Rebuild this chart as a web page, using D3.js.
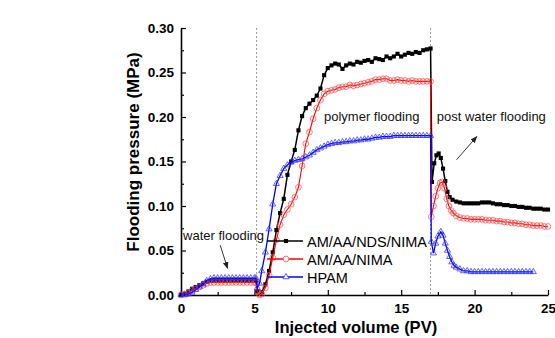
<!DOCTYPE html>
<html>
<head>
<meta charset="utf-8">
<script src="https://cdn.jsdelivr.net/npm/d3@7"></script>
<style>
  body { margin: 0; background: #fff; }
  text { font-family: "Liberation Sans", Arial, sans-serif; }
</style>
</head>
<body>
<div id="chart"></div>
<script>
// AM/AA/NDS/NIMA  [PV, MPa]
const seriesNDS = [
  [0,0],[0.25,0.001],[0.5,0.004],[0.75,0.007],[1,0.009],[1.25,0.011],[1.5,0.013],[1.75,0.015],[2,0.016],
  [2.25,0.017],[2.5,0.017],[2.75,0.017],[3,0.017],[3.25,0.017],[3.5,0.017],[3.75,0.017],[4,0.017],
  [4.25,0.017],[4.5,0.017],[4.75,0.017],[5,0.017],[5.1,0.016],[5.2,0.004],[5.35,0.001],[5.5,0.003],
  [5.75,0.012],[6,0.027],[6.25,0.048],[6.5,0.073],[6.75,0.092],[7,0.108],[7.25,0.135],[7.5,0.150],
  [7.75,0.163],[8,0.185],[8.25,0.201],[8.5,0.210],[8.75,0.215],[9,0.219],[9.25,0.224],[9.5,0.232],
  [9.75,0.247],[10,0.255],[10.25,0.258],[10.5,0.260],[10.75,0.259],[11,0.254],[11.25,0.258],[11.5,0.260],
  [11.75,0.259],[12,0.262],[12.25,0.261],[12.5,0.263],[12.75,0.264],[13,0.262],[13.25,0.266],[13.5,0.265],
  [13.75,0.264],[14,0.268],[14.25,0.266],[14.5,0.268],[14.75,0.271],[15,0.268],[15.25,0.270],[15.5,0.272],
  [15.75,0.271],[16,0.273],[16.25,0.272],[16.5,0.275],[16.75,0.276],[17,0.277],
  [17.1,0.127],[17.25,0.148],[17.4,0.157],[17.55,0.159],[17.7,0.154],[17.85,0.142],[18,0.128],[18.15,0.116],
  [18.3,0.110],[18.5,0.107],[18.75,0.105],[19,0.104],[19.25,0.103],[19.5,0.103],[19.75,0.103],[20,0.103],
  [20.25,0.103],[20.5,0.104],[20.75,0.104],[21,0.104],[21.25,0.103],[21.5,0.102],[21.75,0.102],[22,0.101],
  [22.25,0.101],[22.5,0.100],[22.75,0.100],[23,0.099],[23.25,0.099],[23.5,0.098],[23.75,0.098],[24,0.097],
  [24.25,0.097],[24.5,0.097],[24.75,0.096],[25,0.096]
];

// AM/AA/NIMA
const seriesNIMA = [
  [0,0],[0.25,0.001],[0.5,0.002],[0.75,0.005],[1,0.007],[1.25,0.009],[1.5,0.011],[1.75,0.013],[2,0.014],
  [2.25,0.014],[2.5,0.014],[2.75,0.014],[3,0.014],[3.25,0.014],[3.5,0.014],[3.75,0.014],[4,0.014],
  [4.25,0.014],[4.5,0.014],[4.75,0.014],[5,0.014],[5.1,0.014],[5.2,0.004],[5.35,0],[5.5,0.001],
  [5.75,0.008],[6,0.022],[6.25,0.042],[6.5,0.062],[6.75,0.079],[7,0.090],[7.25,0.096],[7.5,0.102],
  [7.75,0.110],[8,0.121],[8.25,0.145],[8.5,0.170],[8.75,0.183],[9,0.198],[9.25,0.210],[9.5,0.219],
  [9.75,0.226],[10,0.229],[10.25,0.230],[10.5,0.231],[10.75,0.233],[11,0.234],[11.25,0.234],[11.5,0.236],
  [11.75,0.235],[12,0.236],[12.25,0.237],[12.5,0.238],[12.75,0.239],[13,0.240],[13.25,0.242],[13.5,0.242],
  [13.75,0.243],[14,0.243],[14.25,0.241],[14.5,0.241],[14.75,0.242],[15,0.241],[15.25,0.241],[15.5,0.240],
  [15.75,0.241],[16,0.240],[16.25,0.240],[16.5,0.240],[16.75,0.240],[17,0.240],
  [17.05,0.088],[17.2,0.100],[17.35,0.111],[17.5,0.120],[17.65,0.126],[17.8,0.127],[17.95,0.120],[18.1,0.108],
  [18.25,0.100],[18.4,0.095],[18.55,0.092],[18.75,0.089],[19,0.087],[19.25,0.086],[19.5,0.086],[19.75,0.085],
  [20,0.085],[20.25,0.085],[20.5,0.085],[20.75,0.084],[21,0.084],[21.25,0.084],[21.5,0.083],[21.75,0.083],
  [22,0.082],[22.25,0.082],[22.5,0.081],[22.75,0.081],[23,0.080],[23.25,0.080],[23.5,0.079],[23.75,0.079],
  [24,0.078],[24.25,0.078],[24.5,0.078],[24.75,0.077],[25,0.077]
];

// HPAM
const seriesHPAM = [
  [0,0],[0.25,0],[0.5,0.001],[0.75,0.003],[1,0.006],[1.25,0.009],[1.5,0.012],[1.75,0.016],[2,0.018],
  [2.25,0.019],[2.5,0.019],[2.75,0.019],[3,0.019],[3.25,0.019],[3.5,0.019],[3.75,0.019],[4,0.019],
  [4.25,0.019],[4.5,0.019],[4.75,0.019],[5,0.019],[5.1,0.019],[5.2,0.008],[5.35,0.013],[5.5,0.027],
  [5.75,0.048],[6,0.074],[6.25,0.102],[6.5,0.125],[6.75,0.134],[7,0.142],[7.25,0.146],[7.5,0.149],
  [7.75,0.151],[8,0.152],[8.25,0.153],[8.5,0.155],[8.75,0.157],[9,0.160],[9.25,0.163],[9.5,0.165],
  [9.75,0.167],[10,0.169],[10.25,0.170],[10.5,0.171],[10.75,0.171],[11,0.172],[11.25,0.172],[11.5,0.173],
  [11.75,0.173],[12,0.174],[12.25,0.174],[12.5,0.175],[12.75,0.175],[13,0.176],[13.25,0.177],[13.5,0.177],
  [13.75,0.178],[14,0.178],[14.25,0.178],[14.5,0.179],[14.75,0.179],[15,0.179],[15.25,0.179],[15.5,0.179],
  [15.75,0.179],[16,0.179],[16.25,0.179],[16.5,0.179],[16.75,0.179],[17,0.179],
  [17.05,0.060],[17.2,0.047],[17.35,0.058],[17.5,0.066],[17.7,0.071],[17.85,0.067],[18,0.058],[18.15,0.050],
  [18.3,0.043],[18.45,0.037],[18.6,0.033],[18.75,0.031],[19,0.029],[19.25,0.027],[19.5,0.027],[19.75,0.026],
  [20,0.026],[20.25,0.026],[20.5,0.026],[20.75,0.026],[21,0.026],[21.25,0.026],[21.5,0.026],[21.75,0.026],
  [22,0.026],[22.25,0.026],[22.5,0.026],[22.75,0.026],[23,0.026],[23.25,0.026],[23.5,0.026],[23.75,0.026],
  [24,0.026]
];

const seriesNames = ['AM/AA/NDS/NIMA', 'AM/AA/NIMA', 'HPAM'];
const xTicks = [0, 5, 10, 15, 20, 25];
const xMinorTicks = [2.5, 7.5, 12.5, 17.5, 22.5];
const yTicks = [0, 0.05, 0.10, 0.15, 0.20, 0.25, 0.30];
const yMinorTicks = [0.025, 0.075, 0.125, 0.175, 0.225, 0.275];
const stageLines = [5.15, 17.0];   // dashed stage boundaries (PV)

// annotation text / arrows, in data units
const labels = [
  { text: 'water flooding', x: 0.14, y: 0.0615 },
  { text: 'polymer flooding', x: 9.74, y: 0.195 },
  { text: 'post water flooding', x: 17.42, y: 0.195 }
];
const arrows = [
  { x1: 2.67, y1: 0.056, x2: 3.17, y2: 0.030 },
  { x1: 18.77, y1: 0.152, x2: 20.15, y2: 0.178 }
];

const W = 555, H = 338;
const margin = { top: 28, right: 7, bottom: 43, left: 181 };
const iw = W - margin.left - margin.right;
const ih = H - margin.top - margin.bottom;

const svg = d3.select('#chart').append('svg')
  .attr('width', W).attr('height', H);

const defs = svg.append('defs');
defs.append('marker')
  .attr('id', 'arrow')
  .attr('viewBox', '0 0 10 10')
  .attr('refX', 9).attr('refY', 5)
  .attr('markerWidth', 7).attr('markerHeight', 7)
  .attr('markerUnits', 'userSpaceOnUse')
  .attr('orient', 'auto')
  .append('path').attr('d', 'M0,1 L10,5 L0,9 Z').attr('fill', '#222');

const g = svg.append('g')
  .attr('transform', `translate(${margin.left},${margin.top})`);

const x = d3.scaleLinear().domain([0, 25]).range([0, iw]);
const y = d3.scaleLinear().domain([0, 0.30]).range([ih, 0]);

// stage boundaries
g.selectAll('.stage')
  .data(stageLines)
  .join('line')
  .attr('class', 'stage')
  .attr('x1', d => x(d)).attr('x2', d => x(d))
  .attr('y1', y(0.30)).attr('y2', y(0))
  .attr('stroke', '#999')
  .attr('stroke-width', 1)
  .attr('stroke-dasharray', '2,2');

// axes
function styleAxis(sel) {
  sel.select('.domain').attr('stroke', '#000').attr('stroke-width', 1.6);
  sel.selectAll('.tick line').attr('stroke', '#000').attr('stroke-width', 1.2);
  sel.selectAll('.tick text')
    .attr('fill', '#000')
    .style('font-size', '13.5px')
    .style('font-weight', 'bold')
    .style('font-family', '"Liberation Sans", Arial, sans-serif');
}

g.append('g')
  .attr('transform', `translate(0,${ih})`)
  .call(d3.axisBottom(x).tickValues(xMinorTicks).tickSizeInner(-3).tickSizeOuter(0).tickFormat(''))
  .call(s => s.select('.domain').remove())
  .selectAll('.tick line').attr('stroke', '#000').attr('stroke-width', 1.2);

g.append('g')
  .attr('transform', `translate(0,${ih})`)
  .call(d3.axisBottom(x).tickValues(xTicks).tickSizeInner(-5).tickSizeOuter(0).tickPadding(8).tickFormat(d3.format('d')))
  .call(styleAxis);

g.append('g')
  .call(d3.axisLeft(y).tickValues(yMinorTicks).tickSizeInner(-3).tickSizeOuter(0).tickFormat(''))
  .call(s => s.select('.domain').remove())
  .selectAll('.tick line').attr('stroke', '#000').attr('stroke-width', 1.2);

g.append('g')
  .call(d3.axisLeft(y).tickValues(yTicks).tickSizeInner(-5).tickSizeOuter(0).tickPadding(7).tickFormat(d3.format('.2f')))
  .call(styleAxis);

// axis titles
svg.append('text')
  .attr('x', 356).attr('y', 333)
  .attr('text-anchor', 'middle')
  .style('font-size', '16.5px').style('font-weight', 'bold')
  .text('Injected volume (PV)');

svg.append('text')
  .attr('transform', 'translate(139,152) rotate(-90)')
  .attr('text-anchor', 'middle')
  .style('font-size', '17px').style('font-weight', 'bold')
  .text('Flooding pressure (MPa)');

// series
const line = d3.line().x(d => x(d[0])).y(d => y(d[1]));
const symSquare = d3.symbol().type(d3.symbolSquare).size(17);
const symCircle = d3.symbol().type(d3.symbolCircle).size(26);
const symTri = d3.symbol().type(d3.symbolTriangle).size(16);

const series = [
  { name: seriesNames[0], data: seriesNDS, color: '#000', width: 1.5, sym: symSquare, fill: '#000', mstroke: 'none' },
  { name: seriesNames[1], data: seriesNIMA, color: '#ff0000', width: 1.1, sym: symCircle, fill: 'none', mstroke: '#ff4a4a' },
  { name: seriesNames[2], data: seriesHPAM, color: '#0000ff', width: 1.3, sym: symTri, fill: 'none', mstroke: '#3030ff' }
];

series.forEach(s => {
  const sg = g.append('g');
  sg.append('path')
    .datum(s.data)
    .attr('d', line)
    .attr('fill', 'none')
    .attr('stroke', s.color)
    .attr('stroke-width', s.width);
  sg.selectAll('path.pt')
    .data(s.data)
    .join('path')
    .attr('class', 'pt')
    .attr('transform', d => `translate(${x(d[0])},${y(d[1])})`)
    .attr('d', s.sym)
    .attr('fill', s.fill)
    .attr('stroke', s.mstroke)
    .attr('stroke-width', 0.75);
});

// legend
const legend = svg.append('g').attr('transform', 'translate(267,241)');
series.forEach((s, i) => {
  const row = legend.append('g').attr('transform', `translate(0,${i * 18})`);
  row.append('line')
    .attr('x1', 0).attr('x2', 36).attr('y1', 0).attr('y2', 0)
    .attr('stroke', s.color).attr('stroke-width', 1.6);
  row.append('path')
    .attr('transform', 'translate(19,0)')
    .attr('d', s.sym)
    .attr('fill', s.fill === 'none' ? '#fff' : s.fill)
    .attr('stroke', s.mstroke)
    .attr('stroke-width', 0.8);
  row.append('text')
    .attr('x', 40).attr('y', 5.5)
    .style('font-size', '14.5px')
    .text(s.name);
});

// annotations
g.selectAll('.lbl')
  .data(labels)
  .join('text')
  .attr('class', 'lbl')
  .attr('x', d => x(d.x)).attr('y', d => y(d.y))
  .style('font-size', '13px')
  .attr('fill', '#111')
  .text(d => d.text);

g.selectAll('.arr')
  .data(arrows)
  .join('line')
  .attr('class', 'arr')
  .attr('x1', d => x(d.x1)).attr('y1', d => y(d.y1))
  .attr('x2', d => x(d.x2)).attr('y2', d => y(d.y2))
  .attr('stroke', '#222').attr('stroke-width', 0.9)
  .attr('marker-end', 'url(#arrow)');
</script>
</body>
</html>
